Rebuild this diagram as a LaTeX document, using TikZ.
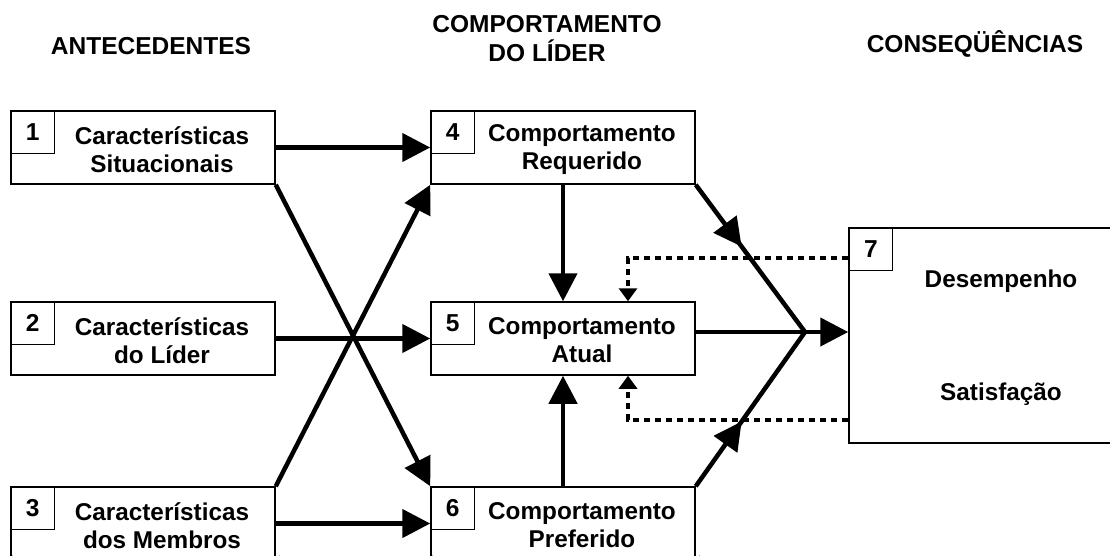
\documentclass[tikz,border=0pt]{standalone}
\usepackage{fontspec}
\setmainfont{Liberation Sans}
\usetikzlibrary{arrows.meta,calc,decorations.markings,backgrounds}
\begin{document}
\begin{tikzpicture}[x=1pt,y=-1pt,
  panel/.style={draw=black,line width=1.5pt,minimum width=264pt,minimum height=73pt,inner sep=0pt},
  numbox/.style={draw=black,line width=1.1pt,minimum width=44pt,minimum height=43pt,inner sep=0pt,anchor=north west,font=\fontsize{24.5}{28}\selectfont\bfseries},
  lbl/.style={align=center,font=\fontsize{24.3}{28}\selectfont\bfseries,inner sep=0pt},
  head/.style={align=center,font=\fontsize{24.5}{29}\selectfont\bfseries,inner sep=0pt},
  arr/.style={line width=4.5pt,-{Triangle[length=28pt,width=28pt]}},
  thickline/.style={line width=4.5pt},
  midarrow/.style={postaction={decorate},decoration={markings,mark=at position 0.42 with {\arrow{Triangle[length=28pt,width=28pt]}}}},
  dotarrow/.style={line width=4pt,dash pattern=on 6pt off 5pt,-{Triangle[length=13pt,width=18pt]}},
  ghost/.style={draw=gray!60,line width=1pt}
]
\useasboundingbox[fill=white] (0,0) rectangle (1110,555);

% headings
\node[head] (h1) at (151,46) {ANTECEDENTES};
\node[head] (h2) at (547,38.5) {COMPORTAMENTO\\DO LÍDER};
\node[head] (h3) at (975,44) {CONSEQÜÊNCIAS};

% boxes
\node[panel] (b1) at (143,147.5) {};
\node[panel] (b2) at (143,338.5) {};
\node[panel] (b3) at (143,523.5) {};
\node[panel] (b4) at (563,147.5) {};
\node[panel] (b5) at (563,338.5) {};
\node[panel] (b6) at (563,523.5) {};
\node[panel,minimum width=281pt,minimum height=215pt] (b7) at (989.5,335.5) {};

\begin{scope}[on background layer]
  \foreach \b in {b1,b2,b3,b4,b5,b6,b7}{
    \draw[ghost] ($(\b.north west)+(2.5,-1)$) rectangle ($(\b.south east)+(3.5,1.5)$);
  }
\end{scope}

% number boxes
\node[numbox] (n1) at (b1.north west) {1};
\node[numbox] (n2) at (b2.north west) {2};
\node[numbox] (n3) at (b3.north west) {3};
\node[numbox] (n4) at (b4.north west) {4};
\node[numbox] (n5) at (b5.north west) {5};
\node[numbox] (n6) at (b6.north west) {6};
\node[numbox] (n7) at (b7.north west) {7};

% texts
\node[lbl] (t1) at ($(b1.center)+(19,2)$) {Características\\Situacionais};
\node[lbl] (t2) at ($(b2.center)+(19,2)$) {Características\\do Líder};
\node[lbl] (t3) at ($(b3.center)+(19,2)$) {Características\\dos Membros};
\node[lbl] (t4) at ($(b4.center)+(19,2)$) {Comportamento\\Requerido};
\node[lbl] (t5) at ($(b5.center)+(19,2)$) {Comportamento\\Atual};
\node[lbl] (t6) at ($(b6.center)+(19,2)$) {Comportamento\\Preferido};
\node[lbl] (t7a) at (1001,281) {Desempenho};
\node[lbl] (t7b) at (1001,394) {Satisfação};

% connectors
\coordinate (J) at (805,332);
\coordinate (d1) at (628,258);
\coordinate (d2) at (628,420);

\draw[arr] (b1.east) -- (b4.west);
\draw[arr] (b1.south east) -- (b6.north west);
\draw[arr] (b3.north east) -- (b4.south west);
\draw[arr] (b2.east) -- (b5.west);
\draw[arr] (b3.east) -- (b6.west);
\draw[arr] (b4.south) -- (b5.north);
\draw[arr] (b6.north) -- (b5.south);
\draw[thickline,midarrow] (b4.south east) -- (J);
\draw[thickline,midarrow] (b6.north east) -- (J);
\draw[thickline] (b5.east |- J) -- (J);
\draw[arr] (J) -- (b7.west |- J);

\draw[dotarrow] (b7.west |- d1) -- (d1) -- (d1 |- b5.north);
\draw[dotarrow] (b7.west |- d2) -- (d2) -- (d2 |- b5.south);
\end{tikzpicture}
\end{document}
